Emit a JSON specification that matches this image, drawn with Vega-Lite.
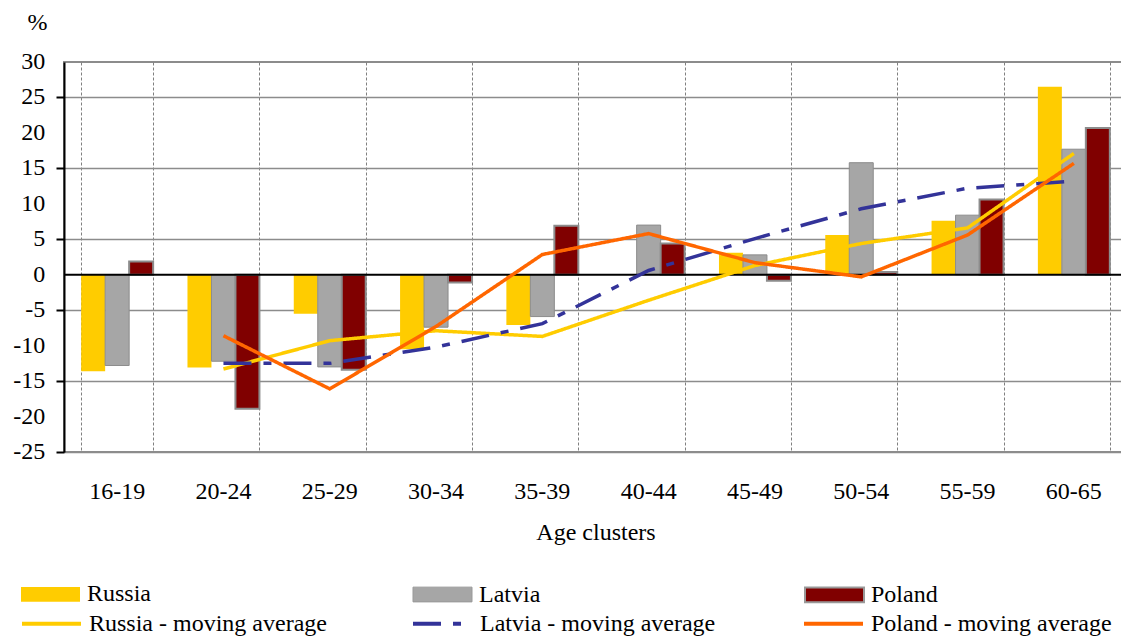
{
  "$schema": "https://vega.github.io/schema/vega-lite/v6.json",
  "autosize": "none",
  "padding": {"left": 64, "top": 62, "right": 0, "bottom": 185},
  "width": 1063,
  "height": 390,
  "background": "white",
  "config": {
    "font": "Liberation Serif",
    "view": {"stroke": "#8c8c8c", "strokeWidth": 2},
    "axis": {"titleFont": "Liberation Serif", "titleFontSize": 24, "titleFontWeight": "normal", "titleColor": "black"},
    "legend": {"labelFont": "Liberation Serif", "labelFontSize": 24, "labelColor": "black", "labelLimit": 500}
  },
  "datasets": {
    "bars": [
      {"age": "16-19", "country": "Russia", "value": -13.6},
      {"age": "16-19", "country": "Latvia", "value": -12.8},
      {"age": "16-19", "country": "Poland", "value": 1.85},
      {"age": "20-24", "country": "Russia", "value": -13.1},
      {"age": "20-24", "country": "Latvia", "value": -12.2},
      {"age": "20-24", "country": "Poland", "value": -18.9},
      {"age": "25-29", "country": "Russia", "value": -5.5},
      {"age": "25-29", "country": "Latvia", "value": -13.0},
      {"age": "25-29", "country": "Poland", "value": -13.4},
      {"age": "30-34", "country": "Russia", "value": -10.5},
      {"age": "30-34", "country": "Latvia", "value": -7.4},
      {"age": "30-34", "country": "Poland", "value": -1.1},
      {"age": "35-39", "country": "Russia", "value": -7.1},
      {"age": "35-39", "country": "Latvia", "value": -5.9},
      {"age": "35-39", "country": "Poland", "value": 6.9},
      {"age": "40-44", "country": "Russia", "value": 0},
      {"age": "40-44", "country": "Latvia", "value": 7.0},
      {"age": "40-44", "country": "Poland", "value": 4.4},
      {"age": "45-49", "country": "Russia", "value": 3.1},
      {"age": "45-49", "country": "Latvia", "value": 2.8},
      {"age": "45-49", "country": "Poland", "value": -0.85},
      {"age": "50-54", "country": "Russia", "value": 5.6},
      {"age": "50-54", "country": "Latvia", "value": 15.8},
      {"age": "50-54", "country": "Poland", "value": 0.4},
      {"age": "55-59", "country": "Russia", "value": 7.6},
      {"age": "55-59", "country": "Latvia", "value": 8.4},
      {"age": "55-59", "country": "Poland", "value": 10.6},
      {"age": "60-65", "country": "Russia", "value": 26.5},
      {"age": "60-65", "country": "Latvia", "value": 17.7},
      {"age": "60-65", "country": "Poland", "value": 20.7}
    ],
    "ma": [
      {"age": "20-24", "series": "Russia - moving average", "value": -13.3},
      {"age": "25-29", "series": "Russia - moving average", "value": -9.3},
      {"age": "30-34", "series": "Russia - moving average", "value": -7.9},
      {"age": "35-39", "series": "Russia - moving average", "value": -8.7},
      {"age": "40-44", "series": "Russia - moving average", "value": -3.6},
      {"age": "45-49", "series": "Russia - moving average", "value": 1.3},
      {"age": "50-54", "series": "Russia - moving average", "value": 4.4},
      {"age": "55-59", "series": "Russia - moving average", "value": 6.6},
      {"age": "60-65", "series": "Russia - moving average", "value": 17.1},
      {"age": "20-24", "series": "Latvia - moving average", "value": -12.5},
      {"age": "25-29", "series": "Latvia - moving average", "value": -12.5},
      {"age": "30-34", "series": "Latvia - moving average", "value": -10.2},
      {"age": "35-39", "series": "Latvia - moving average", "value": -6.9},
      {"age": "40-44", "series": "Latvia - moving average", "value": 0.6},
      {"age": "45-49", "series": "Latvia - moving average", "value": 5.1},
      {"age": "50-54", "series": "Latvia - moving average", "value": 9.3},
      {"age": "55-59", "series": "Latvia - moving average", "value": 12.2},
      {"age": "60-65", "series": "Latvia - moving average", "value": 13.2},
      {"age": "20-24", "series": "Poland - moving average", "value": -8.6},
      {"age": "25-29", "series": "Poland - moving average", "value": -16.1},
      {"age": "30-34", "series": "Poland - moving average", "value": -7.3},
      {"age": "35-39", "series": "Poland - moving average", "value": 2.85},
      {"age": "40-44", "series": "Poland - moving average", "value": 5.8},
      {"age": "45-49", "series": "Poland - moving average", "value": 1.7},
      {"age": "50-54", "series": "Poland - moving average", "value": -0.3},
      {"age": "55-59", "series": "Poland - moving average", "value": 5.6},
      {"age": "60-65", "series": "Poland - moving average", "value": 15.7}
    ],
    "ages": [
      {"age": "16-19"}, {"age": "20-24"}, {"age": "25-29"}, {"age": "30-34"}, {"age": "35-39"},
      {"age": "40-44"}, {"age": "45-49"}, {"age": "50-54"}, {"age": "55-59"}, {"age": "60-65"}
    ],
    "yticks": [
      {"t": -25}, {"t": -20}, {"t": -15}, {"t": -10}, {"t": -5}, {"t": 0},
      {"t": 5}, {"t": 10}, {"t": 15}, {"t": 20}, {"t": 25}, {"t": 30}
    ]
  },
  "layer": [
    {
      "data": {"name": "bars"},
      "mark": {"type": "bar", "stroke": "#8c8c8c"},
      "encoding": {
        "x": {
          "field": "age", "type": "nominal",
          "scale": {"domain": ["16-19", "20-24", "25-29", "30-34", "35-39", "40-44", "45-49", "50-54", "55-59", "60-65"], "paddingInner": 0.323, "paddingOuter": 0.1615},
          "axis": {"title": "Age clusters", "labels": false, "tickBand": "extent", "grid": true, "gridDash": [3, 2], "gridColor": "#808080", "gridWidth": 1, "ticks": false, "tickSize": 0, "domain": false, "titlePadding": 68}
        },
        "xOffset": {"field": "country", "type": "nominal", "scale": {"domain": ["Russia", "Latvia", "Poland"], "paddingInner": 0, "paddingOuter": 0}},
        "y": {
          "field": "value", "type": "quantitative",
          "scale": {"domain": [-25, 30], "nice": false, "zero": false},
          "axis": {"title": "%", "labels": false, "titleAngle": 0, "titleX": -27, "titleY": -40, "titleAlign": "center", "titleBaseline": "middle", "values": [-25, -20, -15, -10, -5, 0, 5, 10, 15, 20, 25, 30], "grid": true, "gridColor": "#8c8c8c", "gridWidth": 1.5, "domainColor": "black", "domainWidth": 2, "tickColor": "black", "tickWidth": 2, "tickSize": 8}
        },
        "fill": {
          "field": "country", "type": "nominal",
          "scale": {"domain": ["Russia", "Latvia", "Poland"], "range": ["#FFCC00", "#A6A6A6", "#800000"]},
          "legend": {"title": null, "orient": "none", "legendX": -44, "legendY": 502, "direction": "horizontal", "columns": 3, "gridAlign": "all", "columnPadding": 255, "symbolType": "M-1,-0.25H1V0.25H-1Z", "symbolSize": 3481, "symbolStrokeColor": "#999999", "symbolStrokeWidth": 1, "labelOffset": 6}
        },
        "strokeWidth": {
          "field": "country", "type": "nominal",
          "scale": {"domain": ["Russia", "Latvia", "Poland"], "range": [0, 2, 2]},
          "legend": null
        }
      }
    },
    {
      "data": {"values": [{"v": 0}]},
      "mark": {"type": "rule", "color": "black", "strokeWidth": 2},
      "encoding": {"y": {"field": "v", "type": "quantitative"}}
    },
    {
      "data": {"name": "ma"},
      "mark": {"type": "line", "strokeWidth": 3.5},
      "encoding": {
        "x": {"field": "age", "type": "nominal", "bandPosition": 0.5},
        "y": {"field": "value", "type": "quantitative"},
        "stroke": {
          "field": "series", "type": "nominal",
          "scale": {"domain": ["Russia - moving average", "Latvia - moving average", "Poland - moving average"], "range": ["#FFCC00", "#333399", "#FF6600"]},
          "legend": {"title": null, "orient": "none", "legendX": -44, "legendY": 530, "direction": "horizontal", "columns": 3, "gridAlign": "all", "columnPadding": 75, "symbolType": "M-1,0H1", "symbolSize": 3481, "symbolStrokeWidth": 4, "labelOffset": 6, "labelLimit": 500}
        },
        "strokeDash": {
          "field": "series", "type": "nominal",
          "scale": {"domain": ["Russia - moving average", "Latvia - moving average", "Poland - moving average"], "range": [[1, 0], [28, 12, 8, 12], [1, 0]]},
          "legend": {"title": null, "orient": "none", "legendX": -44, "legendY": 530, "direction": "horizontal", "columns": 3, "gridAlign": "all", "columnPadding": 75, "symbolType": "M-1,0H1", "symbolSize": 3481, "symbolStrokeWidth": 4, "labelOffset": 6, "labelLimit": 500}
        }
      }
    },
    {
      "data": {"name": "ages"},
      "mark": {"type": "text", "font": "Liberation Serif", "fontSize": 24, "color": "black", "baseline": "middle", "align": "center", "dy": 40},
      "encoding": {
        "x": {"field": "age", "type": "nominal", "bandPosition": 0.5},
        "y": {"datum": -25, "type": "quantitative"},
        "text": {"field": "age", "type": "nominal"}
      }
    },
    {
      "data": {"name": "yticks"},
      "mark": {"type": "text", "font": "Liberation Serif", "fontSize": 24, "color": "black", "baseline": "middle", "align": "right", "dx": -36},
      "encoding": {
        "x": {"datum": "16-19", "type": "nominal", "bandPosition": 0},
        "y": {"field": "t", "type": "quantitative"},
        "text": {"field": "t", "type": "nominal"}
      }
    }
  ]
}
